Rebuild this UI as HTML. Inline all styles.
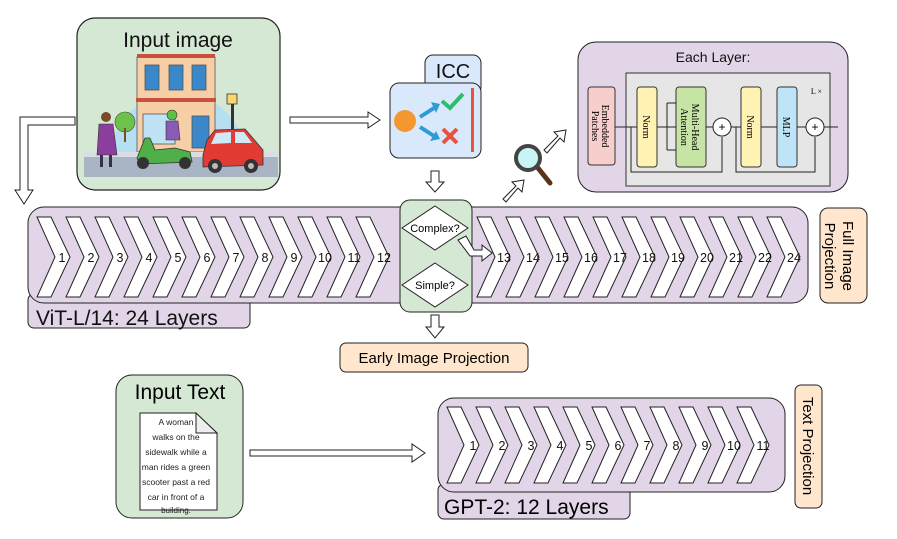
<!DOCTYPE html>
<html><head><meta charset="utf-8"><style>
html,body{margin:0;padding:0;background:#fff}
svg{display:block;font-family:"Liberation Sans",Arial,sans-serif}
</style></head><body>
<svg width="897" height="539" viewBox="0 0 897 539" xmlns="http://www.w3.org/2000/svg">
<defs>
<g id="chev"><polygon points="0,0 14,0 33,40 14,80 0,80 18,40" fill="#fff" stroke="#222" stroke-width="1"/></g>
<g id="chevs"><polygon points="0,0 14,0 32,38 14,76 0,76 17,38" fill="#fff" stroke="#222" stroke-width="1"/></g>
</defs>

<rect x="77" y="18" width="203" height="172" rx="18" fill="#d5e8d4" stroke="#222" stroke-width="1.2"/>
<text x="178" y="47" font-size="21" text-anchor="middle" fill="#111">Input image</text>
<path d="M110,160 A68,68 0 0 1 246,160 Z" fill="#b7dff2"/>
<rect x="137" y="57" width="78" height="95" fill="#f7cfa6" stroke="#555" stroke-width="0.8"/>
<rect x="137" y="54" width="78" height="4" fill="#c8503c"/>
<rect x="136" y="98" width="80" height="4" fill="#c8503c"/>
<rect x="145" y="65" width="14" height="25" fill="#3a87c9" stroke="#555" stroke-width="0.8"/>
<rect x="169" y="65" width="14" height="25" fill="#3a87c9" stroke="#555" stroke-width="0.8"/>
<rect x="192" y="65" width="14" height="25" fill="#3a87c9" stroke="#555" stroke-width="0.8"/>
<rect x="143" y="114" width="32" height="30" fill="#bfe3f5" stroke="#555" stroke-width="0.8"/>
<rect x="192" y="116" width="17" height="32" fill="#3a87c9" stroke="#555" stroke-width="0.8"/>
<rect x="231" y="100" width="3" height="40" fill="#333"/>
<rect x="227" y="94" width="10" height="10" fill="#f5d76e" stroke="#333" stroke-width="0.8"/>
<circle cx="125" cy="122" r="10" fill="#6cc24a" stroke="#444" stroke-width="0.6"/>
<rect x="124" y="128" width="2" height="14" fill="#7a4d2a"/>
<rect x="84" y="157" width="194" height="20" fill="#a9b4c4"/>
<rect x="84" y="152" width="194" height="5" fill="#d9dee5"/>
<circle cx="106" cy="117" r="5" fill="#7a4a2a"/>
<path d="M99,124 L113,124 L117,155 L97,155 Z" fill="#8a3f9c" stroke="#333" stroke-width="0.6"/>
<rect x="100" y="155" width="3" height="12" fill="#334"/><rect x="109" y="155" width="3" height="12" fill="#334"/>
<path d="M137,158 L145,138 L150,138 L155,150 L175,148 L190,152 L192,162 L140,164 Z" fill="#4fb04a" stroke="#333" stroke-width="0.8"/>
<circle cx="143" cy="163" r="6" fill="#333"/><circle cx="185" cy="163" r="6" fill="#333"/>
<circle cx="172" cy="115" r="5" fill="#5bbf4a" stroke="#333" stroke-width="0.6"/>
<path d="M166,121 L178,121 L180,140 L166,140 Z" fill="#8a5bb5" stroke="#333" stroke-width="0.6"/>
<path d="M203,155 L207,140 L215,130 L245,129 L257,143 L263,150 L263,165 L203,167 Z" fill="#e23b35" stroke="#333" stroke-width="0.8"/>
<path d="M216,133 L231,132 L231,143 L211,144 Z" fill="#cfe9f7"/><path d="M235,132 L244,132 L252,143 L235,143 Z" fill="#cfe9f7"/>
<circle cx="215" cy="166" r="7" fill="#333"/><circle cx="251" cy="166" r="7" fill="#333"/>
<circle cx="215" cy="166" r="3" fill="#bbb"/><circle cx="251" cy="166" r="3" fill="#bbb"/>

<polygon points="290,117 368,117 368,112 380,120 368,128 368,123 290,123" fill="#fff" stroke="#222"/>
<polygon points="75,117 20,117 20,190 15,190 24,204 33,190 28,190 28,125 75,125" fill="#fff" stroke="#222"/>

<rect x="425" y="55" width="56" height="40" rx="8" fill="#dae8fc" stroke="#222"/>
<text x="453" y="78" font-size="20" text-anchor="middle" fill="#111">ICC</text>
<rect x="390" y="83" width="91" height="75" rx="9" fill="#dae8fc" stroke="#222"/>
<circle cx="405" cy="121" r="11" fill="#f5972f"/>
<path d="M420,117 L434,108" stroke="#2e9bd8" stroke-width="4"/><polygon points="431,102 440,104 436,113" fill="#2e9bd8"/>
<path d="M420,127 L434,136" stroke="#2e9bd8" stroke-width="4"/><polygon points="430,141 440,139 436,131" fill="#2e9bd8"/>
<path d="M442,101 L450,108 L463,94" stroke="#2ebd6f" stroke-width="4" fill="none"/>
<path d="M443,129 L457,143 M457,129 L443,143" stroke="#e6543e" stroke-width="4"/>
<rect x="471" y="88" width="3" height="64" fill="#e6543e"/>
<polygon points="431,171 439,171 439,182 444,182 435,192 426,182 431,182" fill="#fff" stroke="#222"/>

<polygon points="503,199 516,186 512,182 524,180 522,192 518,188 506,202" fill="#fff" stroke="#222"/>
<polygon points="544,150 558,136 554,132 566,130 564,142 560,138 547,153" fill="#fff" stroke="#222"/>
<line x1="538" y1="168" x2="550" y2="183" stroke="#5a3418" stroke-width="5" stroke-linecap="round"/>
<circle cx="528" cy="158" r="12" fill="#c8f4f6" stroke="#444" stroke-width="4"/>

<rect x="578" y="42" width="270" height="150" rx="18" fill="#e1d5e7" stroke="#222"/>
<text x="713" y="62" font-size="14" text-anchor="middle" fill="#111">Each Layer:</text>
<rect x="626" y="73" width="204" height="113" fill="#e6e6e6" stroke="#333"/>
<text x="822" y="94" font-size="8" text-anchor="end" font-family="Liberation Serif,serif">L ×</text>
<rect x="588" y="87" width="27" height="78" rx="3" fill="#f8cecc" stroke="#333"/>
<text transform="translate(602,126) rotate(90)" font-size="10" text-anchor="middle" font-family="Liberation Serif,serif">Embedded</text>
<text transform="translate(592,126) rotate(90)" font-size="10" text-anchor="middle" font-family="Liberation Serif,serif">Patches</text>
<rect x="637" y="87" width="20" height="80" rx="3" fill="#fff2b3" stroke="#333"/>
<text transform="translate(643,127) rotate(90)" font-size="10" text-anchor="middle" font-family="Liberation Serif,serif">Norm</text>
<rect x="676" y="87" width="30" height="80" rx="3" fill="#c6e5a5" stroke="#333"/>
<text transform="translate(692,127) rotate(90)" font-size="10" text-anchor="middle" font-family="Liberation Serif,serif">Multi-Head</text>
<text transform="translate(681,127) rotate(90)" font-size="10" text-anchor="middle" font-family="Liberation Serif,serif">Attention</text>
<rect x="741" y="87" width="20" height="80" rx="3" fill="#fff2b3" stroke="#333"/>
<text transform="translate(747,127) rotate(90)" font-size="10" text-anchor="middle" font-family="Liberation Serif,serif">Norm</text>
<rect x="777" y="87" width="20" height="80" rx="3" fill="#bfe3f7" stroke="#333"/>
<text transform="translate(783,127) rotate(90)" font-size="10" text-anchor="middle" font-family="Liberation Serif,serif">MLP</text>
<g stroke="#222" stroke-width="1" fill="none">
<path d="M615,127 L637 127"/><path d="M657,127 L676,127"/><path d="M667,103 L667,150 M667,103 L676,103 M667,150 L676,150"/>
<path d="M706,127 L713,127"/><path d="M731,127 L741,127"/><path d="M761,127 L777,127"/><path d="M797,127 L806,127"/><path d="M824,127 L838,127"/>
<path d="M631,127 L631,172 L722,172 L722,137"/><path d="M736,127 L736,172 L815,172 L815,137"/>
</g>
<circle cx="722" cy="127" r="9" fill="#fff" stroke="#222"/><text x="722" y="131" font-size="12" text-anchor="middle">+</text>
<circle cx="815" cy="127" r="9" fill="#fff" stroke="#222"/><text x="815" y="131" font-size="12" text-anchor="middle">+</text>

<rect x="28" y="294" width="222" height="34" rx="6" fill="#e1d5e7" stroke="#222"/>
<text x="36" y="325" font-size="21" fill="#111">ViT-L/14: 24 Layers</text>
<rect x="28" y="207" width="780" height="96" rx="16" fill="#e1d5e7" stroke="#222"/>
<g font-size="12.5" fill="#111" text-anchor="middle">
<g transform="translate(37,217)"><use href="#chev"/></g><text x="62" y="262">1</text>
<g transform="translate(66,217)"><use href="#chev"/></g><text x="91" y="262">2</text>
<g transform="translate(95,217)"><use href="#chev"/></g><text x="120" y="262">3</text>
<g transform="translate(124,217)"><use href="#chev"/></g><text x="149" y="262">4</text>
<g transform="translate(153,217)"><use href="#chev"/></g><text x="178" y="262">5</text>
<g transform="translate(182,217)"><use href="#chev"/></g><text x="207" y="262">6</text>
<g transform="translate(211,217)"><use href="#chev"/></g><text x="236" y="262">7</text>
<g transform="translate(240,217)"><use href="#chev"/></g><text x="265" y="262">8</text>
<g transform="translate(269,217)"><use href="#chev"/></g><text x="294" y="262">9</text>
<g transform="translate(298,217)"><use href="#chev"/></g><text x="325" y="262">10</text>
<g transform="translate(327,217)"><use href="#chev"/></g><text x="354" y="262">11</text>
<g transform="translate(356,217)"><use href="#chev"/></g><text x="384" y="262">12</text>
<g transform="translate(477,217)"><use href="#chev"/></g><text x="504" y="262">13</text>
<g transform="translate(506,217)"><use href="#chev"/></g><text x="533" y="262">14</text>
<g transform="translate(535,217)"><use href="#chev"/></g><text x="562" y="262">15</text>
<g transform="translate(564,217)"><use href="#chev"/></g><text x="591" y="262">16</text>
<g transform="translate(593,217)"><use href="#chev"/></g><text x="620" y="262">17</text>
<g transform="translate(622,217)"><use href="#chev"/></g><text x="649" y="262">18</text>
<g transform="translate(651,217)"><use href="#chev"/></g><text x="678" y="262">19</text>
<g transform="translate(680,217)"><use href="#chev"/></g><text x="707" y="262">20</text>
<g transform="translate(709,217)"><use href="#chev"/></g><text x="736" y="262">21</text>
<g transform="translate(738,217)"><use href="#chev"/></g><text x="765" y="262">22</text>
<g transform="translate(767,217)"><use href="#chev"/></g><text x="794" y="262">24</text>
</g>
<rect x="400" y="200" width="72" height="112" rx="10" fill="#d5e8d4" stroke="#222"/>
<polygon points="435,206 468,228 435,250 402,228" fill="#fff" stroke="#222"/>
<text x="435" y="232" font-size="11" text-anchor="middle">Complex?</text>
<polygon points="435,263 468,285 435,307 402,285" fill="#fff" stroke="#222"/>
<text x="435" y="289" font-size="11" text-anchor="middle">Simple?</text>
<polygon points="458,240 466,236 474,250 482,250 482,245 492,253 482,261 482,256 470,256" fill="#fff" stroke="#222"/>
<polygon points="431,315 439,315 439,327 444,327 435,338 426,327 431,327" fill="#fff" stroke="#222"/>
<rect x="820" y="208" width="47" height="95" rx="8" fill="#ffe6cc" stroke="#222"/>
<text transform="translate(843,256) rotate(90)" font-size="15" text-anchor="middle">Full Image</text>
<text transform="translate(825,256) rotate(90)" font-size="15" text-anchor="middle">Projection</text>
<rect x="340" y="343" width="188" height="29" rx="6" fill="#ffe6cc" stroke="#222"/>
<text x="434" y="363" font-size="15" text-anchor="middle">Early Image Projection</text>

<rect x="116" y="375" width="127" height="143" rx="16" fill="#d5e8d4" stroke="#222"/>
<text x="180" y="399" font-size="21" text-anchor="middle">Input Text</text>
<polygon points="140,413 196,413 217,433 217,510 140,510" fill="#fff" stroke="#222"/>
<polygon points="196,413 196,433 217,433" fill="#eee" stroke="#222"/>
<g font-size="8.5" text-anchor="middle" fill="#222">
<text x="176" y="425">A woman</text><text x="176" y="440">walks on the</text><text x="176" y="455">sidewalk while a</text>
<text x="176" y="470">man rides a green</text><text x="176" y="485">scooter past a red</text><text x="176" y="500">car in front of a</text><text x="176" y="513" font-size="8">building.</text>
</g>
<polygon points="250,450 412,450 412,444 425,453 412,462 412,456 250,456" fill="#fff" stroke="#222"/>

<rect x="438" y="484" width="192" height="35" rx="6" fill="#e1d5e7" stroke="#222"/>
<text x="444" y="514" font-size="21">GPT-2: 12 Layers</text>
<rect x="438" y="398" width="347" height="94" rx="16" fill="#e1d5e7" stroke="#222"/>
<g font-size="12.5" fill="#111" text-anchor="middle">
<g transform="translate(447,407)"><use href="#chevs"/></g><text x="473" y="450">1</text>
<g transform="translate(476,407)"><use href="#chevs"/></g><text x="502" y="450">2</text>
<g transform="translate(505,407)"><use href="#chevs"/></g><text x="531" y="450">3</text>
<g transform="translate(534,407)"><use href="#chevs"/></g><text x="560" y="450">4</text>
<g transform="translate(563,407)"><use href="#chevs"/></g><text x="589" y="450">5</text>
<g transform="translate(592,407)"><use href="#chevs"/></g><text x="618" y="450">6</text>
<g transform="translate(621,407)"><use href="#chevs"/></g><text x="647" y="450">7</text>
<g transform="translate(650,407)"><use href="#chevs"/></g><text x="676" y="450">8</text>
<g transform="translate(679,407)"><use href="#chevs"/></g><text x="705" y="450">9</text>
<g transform="translate(708,407)"><use href="#chevs"/></g><text x="734" y="450">10</text>
<g transform="translate(737,407)"><use href="#chevs"/></g><text x="763" y="450">11</text>
</g>
<rect x="795" y="385" width="27" height="123" rx="6" fill="#ffe6cc" stroke="#222"/>
<text transform="translate(803,446) rotate(90)" font-size="15" text-anchor="middle">Text Projection</text>
</svg>
</body></html>
